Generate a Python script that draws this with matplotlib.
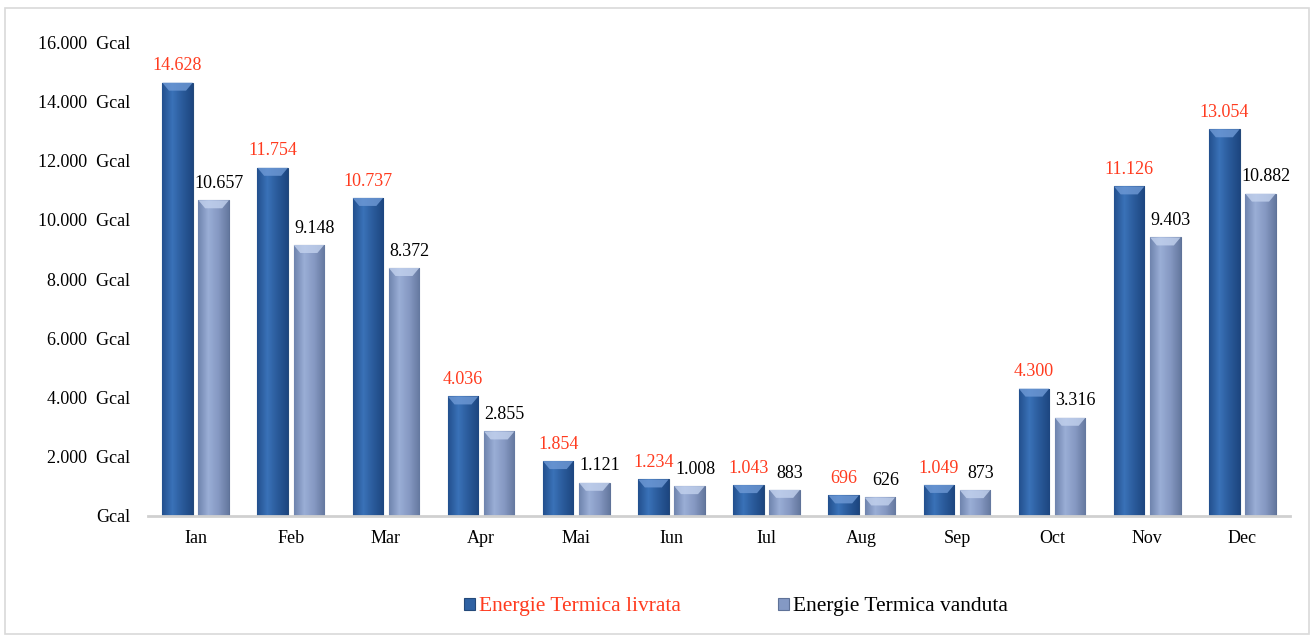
import matplotlib
matplotlib.use("Agg")
import matplotlib.pyplot as plt
from matplotlib.patches import Rectangle, Polygon
from matplotlib.colors import LinearSegmentedColormap
from matplotlib.ticker import FuncFormatter
import numpy as np

luni = ['Ian', 'Feb', 'Mar', 'Apr', 'Mai', 'Iun', 'Iul', 'Aug', 'Sep', 'Oct', 'Nov', 'Dec']
livrata = [14628, 11754, 10737, 4036, 1854, 1234, 1043, 696, 1049, 4300, 11126, 13054]
vanduta = [10657, 9148, 8372, 2855, 1121, 1008, 883, 626, 873, 3316, 9403, 10882]

plt.rcParams['font.family'] = ['Liberation Serif', 'DejaVu Serif']

red = '#ff3b1f'
dark = '#2f62a3'
light = '#8499c4'
cm_dark = LinearSegmentedColormap.from_list('d', ['#23508e', '#3a72b8', '#2a5a9a', '#1d4680'])
cm_light = LinearSegmentedColormap.from_list('l', ['#6f84ae', '#9aaed6', '#8598c2', '#65799f'])

def fmt(v):
    return '{:,}'.format(int(v)).replace(',', '.')

fig = plt.figure(figsize=(13.14, 6.36), dpi=100)
fig.patches.append(Rectangle((5/1314, 2/636), 1304/1314, 626/636, transform=fig.transFigure,
                             fill=False, edgecolor='#d9d9d9', linewidth=1.2))
ax = fig.add_axes([148/1314, 1 - 516/636, 1142/1314, 474/636])

x = np.arange(len(luni))
w = 0.32
off = 0.19
b1 = ax.bar(x - off, livrata, w, color=dark, edgecolor='#24497a', linewidth=0.8,
            label='Energie Termica livrata')
b2 = ax.bar(x + off, vanduta, w, color=light, edgecolor='#5f7298', linewidth=0.8,
            label='Energie Termica vanduta')

ax.set_xlim(-0.5, len(luni) - 0.5)
ax.set_ylim(0, 16000)

# horizontal gradient inside each bar + light bevel on top
grad = np.linspace(0, 1, 64).reshape(1, -1)
bevel_h = 8 * 16000 / 474
for bars, cm, top in [(b1, cm_dark, '#6f9ad6'), (b2, cm_light, '#c3d2ee')]:
    for r in bars:
        x0, y0 = r.get_x(), r.get_y()
        bw, bh = r.get_width(), r.get_height()
        im = ax.imshow(grad, cmap=cm, aspect='auto', zorder=r.get_zorder() + 0.1,
                       extent=(x0, x0 + bw, y0, y0 + bh))
        im.set_clip_path(r)
        h = min(bevel_h, bh * 0.5)
        ax.add_patch(Polygon([(x0, y0 + bh), (x0 + bw, y0 + bh),
                              (x0 + bw * 0.78, y0 + bh - h), (x0 + bw * 0.22, y0 + bh - h)],
                             closed=True, facecolor=top, edgecolor='none', alpha=0.8,
                             zorder=r.get_zorder() + 0.2))
ax.set_xlim(-0.5, len(luni) - 0.5)
ax.set_ylim(0, 16000)

for xi, v in zip(x, livrata):
    ax.annotate(fmt(v), (xi - off, v), xytext=(0, 6), textcoords='offset points',
                ha='center', va='bottom', fontsize=13, color=red)
for xi, v in zip(x, vanduta):
    ax.annotate(fmt(v), (xi + off, v), xytext=(4, 6), textcoords='offset points',
                ha='center', va='bottom', fontsize=13, color='black')

ax.set_yticks(np.arange(0, 16001, 2000))
ax.yaxis.set_major_formatter(FuncFormatter(lambda v, p: 'Gcal' if v == 0 else fmt(v) + '  Gcal'))
ax.set_xticks(x)
ax.set_xticklabels(luni)
ax.tick_params(axis='both', length=0, labelsize=13)
ax.tick_params(axis='x', pad=10)
ax.tick_params(axis='y', pad=13)
for s in ['top', 'right', 'left']:
    ax.spines[s].set_visible(False)
ax.spines['bottom'].set_color('#d0d0d0')
ax.spines['bottom'].set_linewidth(2)
ax.spines['bottom'].set_zorder(5)

leg = fig.legend(handles=[b1, b2], loc='center', bbox_to_anchor=(0.56, 1 - 607/636), ncol=2,
                 frameon=False, fontsize=15.5, handlelength=0.5, handleheight=0.5,
                 handletextpad=0.2, columnspacing=4.5)
leg.get_texts()[0].set_color(red)

fig.savefig('out.png', dpi=100)
